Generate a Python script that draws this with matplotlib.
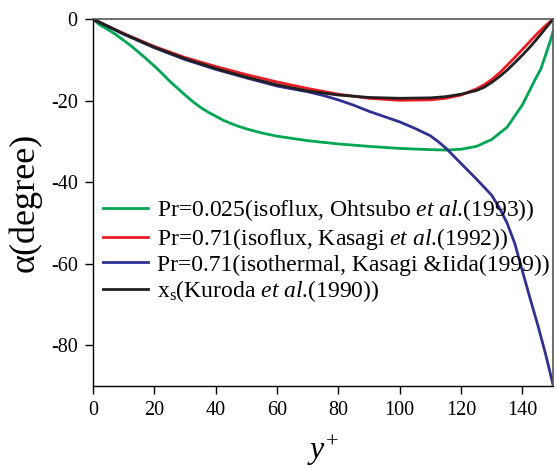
import numpy as np
import matplotlib
matplotlib.use("Agg")
from matplotlib import pyplot as plt

plt.rcParams['font.family'] = ['Liberation Serif', 'DejaVu Serif']
plt.rcParams['mathtext.fontset'] = 'custom'
plt.rcParams['mathtext.rm'] = 'Liberation Serif'
plt.rcParams['mathtext.it'] = 'Liberation Serif:italic'
plt.rcParams['axes.unicode_minus'] = False

# Pr=0.025 isoflux (Ohtsubo et al. 1993)
x_green = [0, 2, 5, 7.5, 10, 12.5, 15, 17.5, 20, 22.5, 25, 27.5, 30, 32.5, 35, 37.5,
           40, 42.5, 45, 47.5, 50, 55, 60, 70, 80, 90, 100, 110, 115, 120, 125, 130,
           135, 140, 142, 144, 146, 148, 149, 150]
a_green = [0, -1.3, -2.6, -3.8, -5.2, -6.6, -8.2, -9.8, -11.5, -13.3, -15.2, -16.9,
           -18.6, -20.2, -21.6, -22.8, -23.8, -24.8, -25.6, -26.3, -26.9, -27.9, -28.7,
           -29.8, -30.6, -31.2, -31.7, -32.0, -32.1, -31.9, -31.2, -29.5, -26.5, -21.0,
           -18.0, -15.0, -12.2, -7.8, -5.5, -3.0]

# Pr=0.71 isoflux (Kasagi et al. 1992)
x_red = [0, 10, 20, 30, 40, 50, 60, 70, 80, 90, 100, 110, 115, 120, 125, 127.5, 130,
         132.5, 135, 137.5, 140, 142.5, 145, 147.5, 150]
a_red = [0, -3.5, -6.7, -9.4, -11.6, -13.6, -15.4, -17.0, -18.4, -19.4, -19.9, -19.8,
         -19.4, -18.6, -17.1, -16.1, -14.8, -13.2, -11.3, -9.4, -7.4, -5.4, -3.4, -1.6, 0]

# Pr=0.71 isothermal (Kasagi & Iida 1999)
x_blue = [0, 10, 20, 30, 40, 50, 60, 65, 70, 75, 80, 85, 90, 95, 100, 105, 110, 112.5,
          115, 117.5, 120, 122.5, 125, 127.5, 130, 132.5, 135, 137.5, 140, 142.5, 145,
          147.5, 150]
a_blue = [0, -3.7, -7.0, -9.9, -12.3, -14.4, -16.4, -17.1, -17.8, -18.7, -19.8, -21.1,
          -22.6, -23.9, -25.2, -26.8, -28.6, -30.0, -31.6, -33.5, -35.4, -37.3, -39.2,
          -41.2, -43.2, -46.3, -50.0, -55.0, -61.8, -68.5, -75.0, -82.0, -89.7]

# x_s (Kuroda et al. 1990)
x_black = [0, 10, 20, 30, 40, 50, 60, 70, 80, 90, 100, 110, 115, 120, 125, 127.5, 130,
           132.5, 135, 137.5, 140, 142.5, 145, 147.5, 150]
a_black = [0, -3.6, -6.9, -9.7, -12.1, -14.2, -16.1, -17.6, -18.6, -19.2, -19.4, -19.3,
           -19.0, -18.4, -17.5, -16.7, -15.5, -14.1, -12.5, -10.7, -8.8, -6.8, -4.6,
           -2.3, 0]

labels = ['Pr=0.025(isoflux, Ohtsubo $\\mathit{et\\ al}$.(1993))',
          'Pr=0.71(isoflux, Kasagi $\\mathit{et\\ al}$.(1992))',
          'Pr=0.71(isothermal, Kasagi &Iida(1999))',
          'x$_\\mathrm{s}$(Kuroda $\\mathit{et\\ al}$.(1990))']

fig = plt.figure(figsize=(5.57, 4.68), dpi=100)
ax = fig.add_axes([0.167, 0.175, 0.826, 0.784])

lw = 2.0
ax.plot(x_green, a_green, color='#00a651', lw=lw, label=labels[0])
ax.plot(x_red, a_red, color='#ed1c24', lw=lw, label=labels[1])
ax.plot(x_blue, a_blue, color='#2e3192', lw=lw, label=labels[2])
ax.plot(x_black, a_black, color='#231f20', lw=lw, label=labels[3])

ax.set_xlim(0, 150)
ax.set_ylim(-90, 0)
ax.set_xticks(np.arange(0, 141, 20))
ax.set_yticks([0, -20, -40, -60, -80])
ax.tick_params(direction='out', length=6, width=1, labelsize=14.5, pad=5)

for side in ['top', 'right']:
    ax.spines[side].set_color('#555555')
    ax.spines[side].set_linewidth(1.2)
for side in ['left', 'bottom']:
    ax.spines[side].set_linewidth(1.0)

ax.set_xlabel('$y^{+}$', fontsize=23, labelpad=10)
ax.set_ylabel('α(degree)', fontsize=26, labelpad=7)

ax.legend(loc='center left', bbox_to_anchor=(0.022, 0.369), frameon=False,
          fontsize=17, handlelength=1.9, handletextpad=0.4, labelspacing=0.1,
          borderpad=0, borderaxespad=0)

fig.savefig('out.png', dpi=100)
